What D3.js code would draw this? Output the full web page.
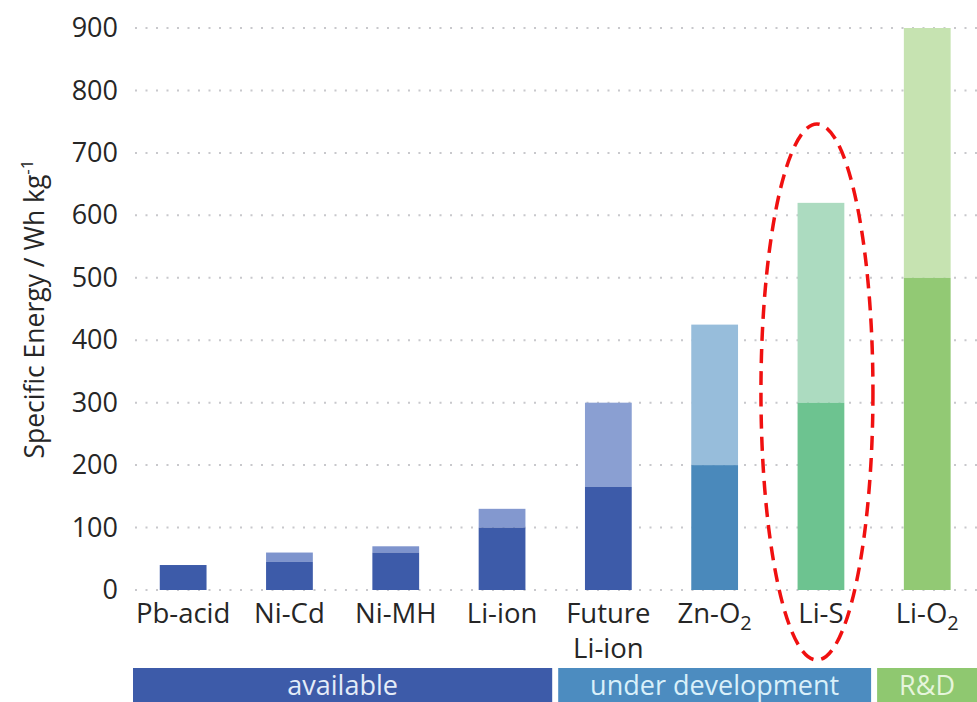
<!DOCTYPE html>
<html>
<head>
<meta charset="utf-8">
<script src="https://cdn.jsdelivr.net/npm/d3@7"></script>
<style>
  html, body { margin: 0; padding: 0; background: #fff; }
  svg { display: block; font-family: "Open Sans", "Noto Sans", sans-serif; }
</style>
</head>
<body>
<svg id="chart" width="977" height="702"></svg>
<script>
// Battery chemistries and their specific energy (Wh/kg)
const categories = ["Pb-acid", "Ni-Cd", "Ni-MH", "Li-ion", "Future Li-ion", "Zn-O2", "Li-S", "Li-O2"];
const practicalValues = [40, 45, 60, 100, 165, 200, 300, 500];
const targetValues = [40, 60, 70, 130, 300, 425, 620, 900];
const stages = ["available", "available", "available", "available",
                "under development", "under development", "under development", "R&D"];
const stageNames = ["available", "under development", "R&D"];
const yTicks = [0, 100, 200, 300, 400, 500, 600, 700, 800, 900];

// Colour pairs per bar: [practical, target]
const barColors = [
  ["#3d5ba9", "#3d5ba9"],
  ["#3d5ba9", "#7e94cd"],
  ["#3d5ba9", "#7e94cd"],
  ["#3d5ba9", "#8398cf"],
  ["#3d5ba9", "#8a9fd2"],
  ["#4a89bb", "#97bddb"],
  ["#6dc390", "#acdbc0"],
  ["#92c974", "#c6e3b1"]
];
const stageColors = { "available": "#3d5ba9", "under development": "#4c8cc0", "R&D": "#8fc870" };
const stageTextColors = { "available": "#e4ecf8", "under development": "#d9f0fa", "R&D": "#e6f5dc" };

const svg = d3.select("#chart");

const x = d3.scaleBand()
  .domain(categories)
  .range([130, 980.4])
  .paddingInner(0.56)
  .paddingOuter(0.28);

const y = d3.scaleLinear().domain([0, 900]).range([590, 28]);

// Dotted gridlines
svg.append("g").selectAll("line")
  .data(yTicks)
  .join("line")
  .attr("x1", 135).attr("x2", 977)
  .attr("y1", d => y(d)).attr("y2", d => y(d))
  .attr("stroke", "#c8c8cc")
  .attr("stroke-width", 2)
  .attr("stroke-dasharray", "2,8.5");

// Y axis tick labels
const yAxis = d3.axisLeft(y).tickValues(yTicks).tickSize(0).tickPadding(0);
const gy = svg.append("g").attr("transform", "translate(118,0)").call(yAxis);
gy.select(".domain").remove();
gy.selectAll("text")
  .attr("font-family", "'Open Sans', 'Noto Sans', sans-serif")
  .attr("font-size", 27)
  .attr("fill", "#262626");

// Y axis title
const title = svg.append("text")
  .attr("transform", "translate(44,309) rotate(-90)")
  .attr("text-anchor", "middle")
  .attr("font-size", 26.5)
  .attr("fill", "#262626");
title.append("tspan").text("Specific Energy / Wh kg");
title.append("tspan").attr("font-size", 17).attr("dy", -11).text("-1");

// Stacked bars: practical value (solid) plus remaining target (lighter)
const bars = svg.append("g");
categories.forEach((c, i) => {
  bars.append("rect")
    .attr("x", x(c)).attr("width", x.bandwidth())
    .attr("y", y(targetValues[i]))
    .attr("height", y(practicalValues[i]) - y(targetValues[i]))
    .attr("fill", barColors[i][1]);
  bars.append("rect")
    .attr("x", x(c)).attr("width", x.bandwidth())
    .attr("y", y(practicalValues[i]))
    .attr("height", y(0) - y(practicalValues[i]))
    .attr("fill", barColors[i][0]);
});

// Category labels, with subscript digits and line breaks
const labels = svg.append("g")
  .attr("font-size", 27.5)
  .attr("fill", "#262626")
  .attr("text-anchor", "middle");
categories.forEach(c => {
  const cx = x(c) + x.bandwidth() / 2;
  const t = labels.append("text").attr("x", cx).attr("y", 623);
  if (c === "Future Li-ion") {
    t.append("tspan").attr("x", cx).text("Future");
    t.append("tspan").attr("x", cx).attr("dy", 35).text("Li-ion");
  } else {
    const m = c.match(/^(.*?)(\d)$/);
    if (m) {
      t.append("tspan").text(m[1]);
      t.append("tspan").attr("font-size", 20).attr("dy", 7).text(m[2]);
    } else {
      t.text(c);
    }
  }
});

// Development-stage bands along the bottom
const halfGap = (x.step() - x.bandwidth()) / 2;
const bands = svg.append("g");
stageNames.forEach(s => {
  const members = categories.filter((c, i) => stages[i] === s);
  const x0 = x(members[0]) - halfGap + 3;
  const x1 = x(members[members.length - 1]) + x.bandwidth() + halfGap - 3;
  bands.append("rect")
    .attr("x", x0).attr("y", 668)
    .attr("width", x1 - x0).attr("height", 40)
    .attr("fill", stageColors[s]);
  bands.append("text")
    .attr("x", Math.min((x0 + x1) / 2, (x0 + 977) / 2))
    .attr("y", 695)
    .attr("text-anchor", "middle")
    .attr("font-size", 27)
    .attr("fill", stageTextColors[s])
    .text(s);
});

// Highlight around Li-S
const liS = x("Li-S") + x.bandwidth() / 2;
svg.append("ellipse")
  .attr("cx", liS - 4).attr("cy", 392)
  .attr("rx", 56).attr("ry", 268)
  .attr("fill", "none")
  .attr("stroke", "#f01010")
  .attr("stroke-width", 3.5)
  .attr("stroke-dasharray", "14,8");
</script>
</body>
</html>
